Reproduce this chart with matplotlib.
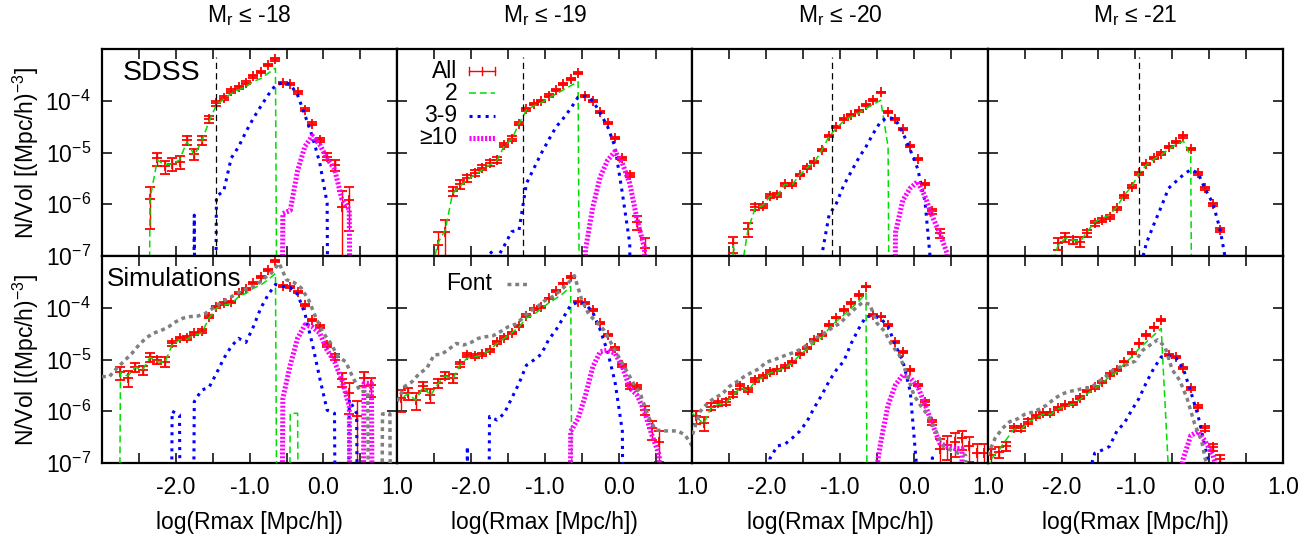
import numpy as np
import matplotlib
matplotlib.use('Agg')
import matplotlib.pyplot as plt
from matplotlib.lines import Line2D
from matplotlib.ticker import NullLocator, FixedLocator, FixedFormatter

plt.rcParams['font.family'] = ['Liberation Sans', 'DejaVu Sans']
plt.rcParams['mathtext.fontset'] = 'custom'
plt.rcParams['mathtext.rm'] = 'Liberation Sans'
plt.rcParams['mathtext.it'] = 'Liberation Sans:italic'
plt.rcParams['mathtext.bf'] = 'Liberation Sans:bold'
plt.rcParams['lines.scale_dashes'] = False

Z = -30.0          # empty bin (log10 of ~0)
N = float('nan')   # no point drawn

# ---------------- bin centres (log Rmax) ----------------
BINS = [-3.05, -2.95, -2.85, -2.75, -2.65, -2.55, -2.45, -2.35, -2.25, -2.15,
        -2.05, -1.95, -1.85, -1.75, -1.65, -1.55, -1.45, -1.35, -1.25, -1.15,
        -1.05, -0.95, -0.85, -0.75, -0.65, -0.55, -0.45, -0.35, -0.25, -0.15,
        -0.05, 0.05, 0.15, 0.25, 0.35, 0.45, 0.55, 0.65, 0.75, 0.85, 0.95]
FONT_BINS = [-3.0, -2.9, -2.8, -2.7, -2.6, -2.5, -2.4, -2.3, -2.2, -2.1,
             -2.0, -1.9, -1.8, -1.7, -1.6, -1.5, -1.4, -1.3, -1.2, -1.1,
             -1.0, -0.9, -0.8, -0.7, -0.6, -0.5, -0.4, -0.3, -0.2, -0.1,
             0.0, 0.1, 0.2, 0.3, 0.4, 0.5, 0.6, 0.7, 0.8, 0.9, 1.0]

MAG_CUTS = ['-18', '-19', '-20', '-21']
XTICKS = [-3.0, -2.5, -2.0, -1.5, -1.0, -0.5, 0.0, 0.5, 1.0]
XTICK_LABELS = ['', '', '-2.0', '', '-1.0', '', '0.0', '', '1.0']
YTICKS = [1e-7, 1e-6, 1e-5, 1e-4, 1e-3]
YTICK_LABELS = [r'$\mathregular{10^{-7}}$', r'$\mathregular{10^{-6}}$',
                r'$\mathregular{10^{-5}}$', r'$\mathregular{10^{-4}}$', '']
RES_LIMITS = [-1.46, -1.29, -1.11, -0.95]   # black dashed lines (SDSS row)

# ---------------- SDSS  Mr <= -18 (log10 N/Vol) ----------------
sdss18_all_x0 = -2.35
sdss18_all = [-5.90, -5.11, -5.27, -5.22, -5.18, -4.76, -5.02, -4.76, -4.36, -4.05,
              -3.95, -3.81, -3.74, -3.65, -3.53, -3.44, -3.31, -3.20, -3.65, -3.68,
              -3.84, -4.17, -4.44, -4.76, -5.08, -5.24, -6.05, -5.91]
sdss18_err = [0.73, 0.28, 0.3, 0.28, 0.28, 0.2, 0.25, 0.2, 0.14, 0.1,
              0.08, 0.07, 0.06, 0.06, 0.05, 0.05, 0.05, 0.05, 0.05, 0.05,
              0.06, 0.07, 0.08, 0.1, 0.15, 0.25, 0.99, 0.75]
sdss18_2_x0 = -2.45
sdss18_2 = [Z, -5.90, -5.145, -5.24, -5.22, -5.145, -4.79, -5.05, -4.79, -4.40,
            -4.08, -3.97, -3.86, -3.79, -3.73, -3.63, -3.57, -3.47, -3.37, Z]
sdss18_39_x0 = -1.85
sdss18_39 = [Z, -6.21, Z, Z, -5.85, -5.74, -5.11, -4.89, -4.60, -4.34, -4.11,
             -3.89, -3.70, -3.65, -3.68, -3.89, -4.28, -4.69, -5.20, -5.98, Z]
sdss18_10_x0 = -0.65
sdss18_10 = [Z, -6.18, -6.12, -5.35, -4.88, -4.68, -4.85, -5.12, -5.32, -5.9, -6.1, Z]

# ---------------- SDSS  Mr <= -19 ----------------
sdss19_all_x0 = -2.45
sdss19_all = [-6.79, -6.53, -5.74, -5.61, -5.50, -5.40, -5.29, -5.20, -5.145, -4.855,
              -4.73, -4.44, -4.166, -4.063, -4.005, -3.90, -3.79, -3.683, -3.58, -3.47,
              -3.908, -4.005, -4.21, -4.436, -4.726, -5.113, -5.435, -6.337, -6.85]
sdss19_err = [0.8, 0.7, 0.2, 0.18, 0.15, 0.13, 0.12, 0.12, 0.12, 0.1,
              0.1, 0.08, 0.06, 0.05, 0.05, 0.05, 0.05, 0.04, 0.04, 0.04,
              0.04, 0.04, 0.05, 0.05, 0.05, 0.06, 0.1, 0.3, 0.6]
sdss19_2_x0 = -2.55
sdss19_2 = [-7.4, -6.75, -6.5, -5.79, -5.65, -5.53, -5.43, -5.34, -5.24, -5.16, -4.87,
            -4.75, -4.44, -4.18, -4.10, -4.04, -3.95, -3.87, -3.79, -3.71, -3.63, Z]
sdss19_39_x0 = -1.85
sdss19_39 = [Z, -6.9, -7.05, -6.8, -6.53, -6.5, -5.6, -5.31, -5.02, -4.76, -4.51,
             -4.34, -4.15, -3.93, -3.91, -4.0, -4.24, -4.50, -4.89, -5.79, -6.76, Z]
sdss19_10_x0 = -0.55
sdss19_10 = [Z, -6.88, -6.05, -5.47, -5.15, -4.98, -5.21, -5.6, -6.30, -6.85, Z]

# ---------------- SDSS  Mr <= -20 ----------------
sdss20_all_x0 = -2.45
sdss20_all = [-6.755, N, -6.485, -6.05, -6.03, -5.84, -5.82, -5.61, -5.61, -5.435,
              -5.29, -5.18, -4.95, -4.68, -4.51, -4.36, -4.275, -4.20, -4.08, -3.985,
              -3.84, -4.21, -4.36, -4.55, -4.87, -5.13, -5.61, -6.14, -6.55]
sdss20_err = [0.35, 0.0, 0.3, 0.15, 0.1, 0.1, 0.08, 0.07, 0.07, 0.06,
              0.06, 0.05, 0.05, 0.05, 0.04, 0.04, 0.04, 0.04, 0.04, 0.04,
              0.04, 0.04, 0.04, 0.04, 0.04, 0.05, 0.06, 0.12, 0.2]
sdss20_2_x0 = -2.55
sdss20_2 = [Z, -6.8, -7.4, -6.5, -6.07, -6.03, -5.85, -5.83, -5.62, -5.62, -5.44, -5.30,
            -5.19, -4.96, -4.69, -4.53, -4.39, -4.31, -4.24, -4.15, -4.07, -3.99, -4.9, Z]
sdss20_39_x0 = -1.35
sdss20_39 = [Z, -7.0, -6.21, -5.98, -5.63, -5.37, -5.11, -4.89, -4.63, -4.40, -4.32,
             -4.36, -4.62, -4.95, -5.31, -5.95, -7.5]
sdss20_10_x0 = -0.35
sdss20_10 = [Z, -6.55, -5.92, -5.69, -5.56, -5.85, -6.24, -6.56, -6.95, Z]

# ---------------- SDSS  Mr <= -21 ----------------
sdss21_all_x0 = -2.05
sdss21_all = [-6.755, -6.63, -6.69, -6.72, -6.56, -6.37, -6.30, -6.24, -6.08, -5.85,
              -5.66, -5.40, -5.22, -5.11, -5.02, -4.89, -4.79, -4.69, -4.93, -5.40,
              -5.69, -6.0, -6.50]
sdss21_err = [0.25, 0.2, 0.15, 0.2, 0.15, 0.1, 0.1, 0.1, 0.08, 0.07,
              0.06, 0.06, 0.05, 0.05, 0.05, 0.05, 0.05, 0.05, 0.05, 0.06,
              0.06, 0.07, 0.1]
sdss21_2_x0 = -2.15
sdss21_2 = [-7.3, -6.8, -6.66, -6.69, -6.72, -6.53, -6.34, -6.27, -6.21, -6.05, -5.82,
            -5.66, -5.40, -5.24, -5.13, -5.05, -4.94, -4.85, -4.78, -5.07, Z]
sdss21_39_x0 = -0.95
sdss21_39 = [-7.3, -6.75, -6.39, -6.05, -5.69, -5.56, -5.43, -5.33, -5.40, -5.72,
             -5.98, -6.50, -7.3]

# ---------------- Simulations  Mr <= -18 ----------------
sim18_all_x0 = -2.75
sim18_all = [-5.25, -5.35, -5.14, -5.20, -4.945, -5.01, -5.04, -4.69, -4.59, -4.578,
             -4.494, -4.449, -4.172, -3.979, -3.915, -3.882, -3.721, -3.638, -3.528, -3.40,
             -3.27, -3.097, -3.573, -3.593, -3.689, -3.947, -4.237, -4.366, -4.72, -4.945,
             -5.38, -5.65, -6.1, -5.36, -5.5]
sim18_err = [0.3, 0.35, 0.2, 0.2, 0.2, 0.15, 0.2, 0.1, 0.08, 0.08,
             0.07, 0.07, 0.06, 0.05, 0.05, 0.05, 0.05, 0.04, 0.04, 0.04,
             0.04, 0.04, 0.04, 0.04, 0.05, 0.05, 0.06, 0.06, 0.08, 0.12,
             0.3, 0.6, 0.99, 0.3, 0.4]
sim18_2_x0 = -2.85
sim18_2 = [Z, -5.25, -5.32, -5.15, -5.2, -4.96, -5.04, -5.06, -4.72, -4.62, -4.61,
           -4.53, -4.49, -4.20, -4.01, -3.95, -3.92, -3.79, -3.72, -3.625, -3.56,
           -3.46, -3.335, Z, -6.04, -6.04, Z]
sim18_39_x0 = -2.15
sim18_39 = [Z, -6.0, -6.07, Z, -5.815, -5.59, -5.54, -5.27, -4.98, -4.75, -4.59,
            -4.67, -4.37, -4.01, -3.75, -3.55, -3.59, -3.61, -3.74, -4.12, -4.7,
            -5.36, -5.98, -6.04, Z, -5.78, -6.04, Z]
sim18_10_x0 = -0.65
sim18_10 = [Z, -5.75, -5.11, -4.59, -4.33, -4.37, -4.49, -4.82, -5.04, -5.40, -5.91,
            Z, -5.46, -5.46, Z]
sim18_font_x0 = -3.0
sim18_font = [-5.33, -5.33, -5.17, -5.03, -4.89, -4.72, -4.58, -4.49, -4.44, -4.37,
              -4.27, -4.20, -4.17, -4.16, -4.11, -4.01, -3.91, -3.83, -3.75, -3.66,
              -3.62, -3.55, -3.43, -3.32, -3.14, -3.46, -3.51, -3.62, -3.85, -4.20,
              -4.49, -4.69, -4.95, -5.04, -5.35, -5.62, -5.62, Z, -6.05, -6.05, Z]

# ---------------- Simulations  Mr <= -19 ----------------
sim19_all_x0 = -2.95
sim19_all = [-5.75, -5.65, -5.78, -5.52, -5.69, -5.46, -5.31, -5.36, -5.09, -4.91,
             -4.93, -4.90, -4.82, -4.67, -4.58, -4.49, -4.35, -4.15, -4.03, -3.98,
             -3.82, -3.68, -3.53, -3.40, -3.88, -3.91, -4.04, -4.30, -4.53, -4.78,
             -5.11, -5.52, -5.53, -5.98, -6.33, -6.59]
sim19_err = [0.45, 0.25, 0.35, 0.2, 0.3, 0.2, 0.15, 0.2, 0.1, 0.08,
             0.08, 0.07, 0.07, 0.06, 0.06, 0.05, 0.05, 0.05, 0.04, 0.04,
             0.04, 0.04, 0.04, 0.04, 0.04, 0.04, 0.04, 0.05, 0.05, 0.06,
             0.07, 0.12, 0.1, 0.2, 0.4, 0.6]
sim19_2_x0 = -3.05
sim19_2 = [-5.8, -5.75, -5.66, -5.79, -5.53, -5.7, -5.47, -5.32, -5.38, -5.11, -4.97,
           -4.95, -4.91, -4.82, -4.69, -4.59, -4.49, -4.37, -4.2, -4.13, -4.02, -3.91,
           -3.82, -3.72, -3.59, Z]
sim19_39_x0 = -2.15
sim19_39 = [Z, -6.68, Z, Z, -6.10, -6.17, -6.04, -5.75, -5.46, -5.11, -5.01, -4.90,
            -4.62, -4.43, -4.19, -3.95, -3.89, -3.93, -4.09, -4.43, -4.85, -5.43, -6.39, Z]
sim19_10_x0 = -0.75
sim19_10 = [Z, -6.39, -6.14, -5.69, -5.14, -4.85, -4.82, -4.88, -5.14, -5.55, -5.69,
            -6.01, -6.46, -6.85, Z]
sim19_font_x0 = -3.0
sim19_font = [-5.81, -5.52, -5.43, -5.27, -5.17, -4.91, -4.90, -4.80, -4.69, -4.72,
              -4.67, -4.59, -4.56, -4.54, -4.46, -4.37, -4.32, -4.20, -4.06, -3.98,
              -3.86, -3.79, -3.68, -3.55, -3.38, -3.85, -4.14, -4.27, -4.43, -4.69,
              -4.95, -5.20, -5.46, -5.69, -6.10, -6.36, -6.38, -6.38, -6.38, -6.46, -6.68]

# ---------------- Simulations  Mr <= -20 ----------------
sim20_all_x0 = -2.95
sim20_all = [-6.1, -6.23, -5.91, -5.85, -5.82, -5.67, -5.52, -5.59, -5.40, -5.33,
             -5.24, -5.20, -5.14, -5.05, -4.90, -4.77, -4.62, -4.53, -4.33, -4.19,
             -4.04, -3.91, -3.75, -3.59, -4.14, -4.17, -4.33, -4.66, -4.86, -5.20,
             -5.49, -5.83, -6.21, -6.72, -6.65, -6.59, -6.52, -6.68, -6.81, -6.81]
sim20_err = [0.3, 0.3, 0.15, 0.12, 0.12, 0.1, 0.1, 0.1, 0.08, 0.07,
             0.07, 0.06, 0.06, 0.06, 0.05, 0.05, 0.05, 0.05, 0.04, 0.04,
             0.04, 0.04, 0.04, 0.04, 0.04, 0.04, 0.04, 0.05, 0.05, 0.05,
             0.06, 0.1, 0.12, 0.5, 0.5, 0.5, 0.4, 0.5, 0.5, 0.5]
sim20_2_x0 = -3.05
sim20_2 = [-6.0, -6.1, -6.25, -5.93, -5.87, -5.84, -5.69, -5.54, -5.61, -5.42, -5.35,
           -5.26, -5.22, -5.16, -5.07, -4.92, -4.80, -4.67, -4.58, -4.40, -4.26, -4.14,
           -4.01, -3.88, -3.72, Z]
sim20_39_x0 = -2.05
sim20_39 = [Z, -6.91, -6.67, -6.64, -6.52, -6.39, -6.20, -5.93, -5.69, -5.42, -5.20,
            -5.03, -4.69, -4.41, -4.17, -4.16, -4.21, -4.36, -4.73, -5.03, -5.62, -7.3,
            Z, -6.9, Z]
sim20_10_x0 = -0.55
sim20_10 = [-7.5, -6.6, -5.88, -5.49, -5.3, -5.35, -5.52, -5.87, -6.25, -6.62, -6.68,
            -6.72, -6.72, Z]
sim20_font_x0 = -3.0
sim20_font = [-6.45, -6.01, -5.85, -5.74, -5.67, -5.52, -5.43, -5.33, -5.25, -5.18,
              -5.05, -5.01, -4.95, -4.90, -4.85, -4.77, -4.67, -4.56, -4.48, -4.38,
              -4.30, -4.15, -4.02, -3.90, -3.93, -4.30, -4.45, -4.72, -4.91, -5.27,
              -5.69, -5.91, -6.10, -6.39, -6.68, -6.75, -6.81, -6.85, Z, Z, Z]

# ---------------- Simulations  Mr <= -21 ----------------
sim21_all_x0 = -2.95
sim21_all = [-6.85, -6.78, -6.68, -6.33, -6.33, -6.2, -6.1, -6.04, -6.04, -5.94,
             -5.88, -5.85, -5.74, -5.61, -5.54, -5.43, -5.29, -5.20, -5.04, -4.88,
             -4.69, -4.53, -4.38, -4.24, -4.91, -4.95, -5.16, -5.56, -5.91, -6.33,
             -6.70, -6.92]
sim21_err = [0.3, 0.25, 0.2, 0.12, 0.1, 0.1, 0.08, 0.08, 0.07, 0.07,
             0.06, 0.06, 0.06, 0.05, 0.05, 0.05, 0.05, 0.05, 0.04, 0.04,
             0.04, 0.04, 0.04, 0.04, 0.04, 0.04, 0.04, 0.05, 0.06, 0.1,
             0.15, 0.2]
sim21_2_x0 = -3.05
sim21_2 = [-7.3, -6.92, -6.75, -6.55, -6.35, -6.35, -6.22, -6.12, -6.06, -6.06, -5.96,
           -5.90, -5.87, -5.77, -5.66, -5.56, -5.46, -5.33, -5.24, -5.08, -4.95, -4.79,
           -4.66, -4.53, -4.40, -7.2]
sim21_39_x0 = -1.65
sim21_39 = [-7.3, -6.81, -6.75, -6.68, -6.38, -6.23, -5.98, -5.75, -5.44, -5.17, -4.95,
            -4.93, -4.97, -5.18, -5.62, -6.09, -6.72, -7.5]
sim21_10_x0 = -0.45
sim21_10 = [-7.6, -6.91, -6.47, -6.39, -6.59, -6.85, -7.3]
sim21_font_x0 = -3.0
sim21_font = [-6.85, -6.52, -6.33, -6.20, -6.15, -6.06, -6.02, -5.96, -5.88, -5.76,
              -5.67, -5.62, -5.59, -5.56, -5.54, -5.43, -5.33, -5.20, -5.14, -5.09,
              -5.03, -4.82, -4.72, -4.62, -4.75, -5.20, -5.40, -5.75, -6.23, -6.59, -7.3]

# ---------------- styles ----------------
RED = '#ff0000'
GREEN = '#00dd00'
BLUE = '#0000ff'
MAGENTA = '#ff00ff'
GRAY = '#808080'
STY_2 = dict(color=GREEN, lw=1.1, dashes=(5.0, 2.8), zorder=3)
STY_39 = dict(color=BLUE, lw=2.2, dashes=(2.2, 3.6), dash_capstyle='butt', zorder=4)
STY_10 = dict(color=MAGENTA, lw=3.6, dashes=(1.5, 1.3), dash_capstyle='butt', zorder=5)
STY_FONT = dict(color=GRAY, lw=2.5, dashes=(2.8, 2.8), dash_capstyle='butt', zorder=6)

W, H = 1303, 539
FS = 16.5


def fx(px):
    return px / W


def fy(py):
    return 1.0 - py / H


def on_grid(grid, start, n):
    i = int(np.argmin(np.abs(np.array(grid) - start)))
    return np.array(grid[i:i + n], dtype=float)


def draw_line(ax, grid, x0, vals, sty):
    x = on_grid(grid, x0, len(vals))
    ax.plot(x, 10.0 ** np.array(vals, dtype=float), **sty)


def draw_all(ax, x0, vals, rel):
    x = on_grid(BINS, x0, len(vals))
    y = 10.0 ** np.array(vals, dtype=float)
    e = y * np.minimum(np.array(rel, dtype=float), 0.99)
    ok = np.isfinite(y)
    ax.errorbar(x[ok], y[ok], yerr=e[ok], fmt='+', color=RED, ms=7.5, mew=1.3,
                elinewidth=1.0, capsize=3.6, capthick=1.0, zorder=2)


PANELS = [
    (0, 0, sdss18_all_x0, sdss18_all, sdss18_err, sdss18_2_x0, sdss18_2,
     sdss18_39_x0, sdss18_39, sdss18_10_x0, sdss18_10, None, None),
    (0, 1, sdss19_all_x0, sdss19_all, sdss19_err, sdss19_2_x0, sdss19_2,
     sdss19_39_x0, sdss19_39, sdss19_10_x0, sdss19_10, None, None),
    (0, 2, sdss20_all_x0, sdss20_all, sdss20_err, sdss20_2_x0, sdss20_2,
     sdss20_39_x0, sdss20_39, sdss20_10_x0, sdss20_10, None, None),
    (0, 3, sdss21_all_x0, sdss21_all, sdss21_err, sdss21_2_x0, sdss21_2,
     sdss21_39_x0, sdss21_39, None, None, None, None),
    (1, 0, sim18_all_x0, sim18_all, sim18_err, sim18_2_x0, sim18_2,
     sim18_39_x0, sim18_39, sim18_10_x0, sim18_10, sim18_font_x0, sim18_font),
    (1, 1, sim19_all_x0, sim19_all, sim19_err, sim19_2_x0, sim19_2,
     sim19_39_x0, sim19_39, sim19_10_x0, sim19_10, sim19_font_x0, sim19_font),
    (1, 2, sim20_all_x0, sim20_all, sim20_err, sim20_2_x0, sim20_2,
     sim20_39_x0, sim20_39, sim20_10_x0, sim20_10, sim20_font_x0, sim20_font),
    (1, 3, sim21_all_x0, sim21_all, sim21_err, sim21_2_x0, sim21_2,
     sim21_39_x0, sim21_39, sim21_10_x0, sim21_10, sim21_font_x0, sim21_font),
]

fig = plt.figure(figsize=(W / 100, H / 100), dpi=100)

PX_LEFT, PX_W, PX_TOP, PX_H = 102.0, 295.25, 49.0, 207.0

for (r, c, ax0, ay, ae, gx0, gy, bx0, by, mx0, my, fx0, fyv) in PANELS:
    left = PX_LEFT + PX_W * c
    top = PX_TOP + PX_H * r
    ax = fig.add_axes([fx(left), fy(top + PX_H), PX_W / W, PX_H / H])
    ax.set_yscale('log')
    ax.set_xlim(-3.0, 1.0)
    ax.set_ylim(1e-7, 1e-3)

    draw_all(ax, ax0, ay, ae)
    draw_line(ax, BINS, gx0, gy, STY_2)
    draw_line(ax, BINS, bx0, by, STY_39)
    if my is not None:
        draw_line(ax, BINS, mx0, my, STY_10)
    if fyv is not None:
        draw_line(ax, FONT_BINS, fx0, fyv, STY_FONT)
    if r == 0:
        ax.plot([RES_LIMITS[c], RES_LIMITS[c]], [1e-7, 10 ** -3.16], color='black',
                lw=0.9, dashes=(4.5, 3.0), zorder=7)

    ax.xaxis.set_major_locator(FixedLocator(XTICKS))
    ax.yaxis.set_major_locator(FixedLocator(YTICKS))
    ax.yaxis.set_minor_locator(NullLocator())
    ax.xaxis.set_minor_locator(NullLocator())
    ax.xaxis.set_major_formatter(FixedFormatter(XTICK_LABELS if r == 1 else [''] * len(XTICKS)))
    ax.yaxis.set_major_formatter(FixedFormatter(YTICK_LABELS if c == 0 else [''] * len(YTICKS)))
    ax.tick_params(axis='both', which='major', direction='in', top=True, right=True,
                   length=7, width=1.1, labelsize=FS, colors='black')
    ax.tick_params(axis='x', pad=9)
    ax.tick_params(axis='y', pad=8)
    for s in ax.spines.values():
        s.set_linewidth(1.6)

# column titles and x labels
for c in range(4):
    cx = PX_LEFT + PX_W * (c + 0.5)
    fig.text(fx(cx), fy(22), r'$\mathregular{M_r}$ ≤ ' + MAG_CUTS[c], ha='center',
             va='baseline', fontsize=FS)
    fig.text(fx(cx), fy(522), 'log(Rmax [Mpc/h])', ha='center', va='center', fontsize=FS)

# y labels
for r in range(2):
    cy = PX_TOP + PX_H * (r + 0.5)
    fig.text(fx(26), fy(cy), r'N/Vol [(Mpc/h)$^{\mathregular{-3}}$]', rotation=90,
             ha='center', va='center', fontsize=FS)

# panel labels
fig.text(fx(123), fy(80.5), 'SDSS', ha='left', va='baseline', fontsize=20.5)
fig.text(fx(107), fy(286.5), 'Simulations', ha='left', va='baseline', fontsize=18.7)

# legend (top row, second panel)
LEG_LABELS = ['All', '2', '3-9', '≥10']
LEG_ROWS = [71, 93, 115.5, 137.5]
for lab, py in zip(LEG_LABELS, LEG_ROWS):
    fig.text(fx(457), fy(py), lab, ha='right', va='center', fontsize=FS)
x1, x2 = 469, 495
yy = LEG_ROWS[0]
fig.add_artist(Line2D([fx(x1), fx(x2)], [fy(yy), fy(yy)], color=RED, lw=1.0))
for xv in (x1, (x1 + x2) / 2, x2):
    fig.add_artist(Line2D([fx(xv), fx(xv)], [fy(yy - 4.5), fy(yy + 4.5)], color=RED, lw=1.0))
sty = dict(STY_2); sty.pop('zorder')
fig.add_artist(Line2D([fx(x1), fx(x2)], [fy(LEG_ROWS[1])] * 2, **sty))
sty = dict(STY_39); sty.pop('zorder')
fig.add_artist(Line2D([fx(x1), fx(x2)], [fy(LEG_ROWS[2])] * 2, **sty))
sty = dict(STY_10); sty.pop('zorder')
fig.add_artist(Line2D([fx(x1), fx(x2)], [fy(LEG_ROWS[3])] * 2, **sty))

# legend (bottom row, second panel)
fig.text(fx(492), fy(283.5), 'Font', ha='right', va='center', fontsize=FS)
sty = dict(STY_FONT); sty.pop('zorder')
fig.add_artist(Line2D([fx(507), fx(529)], [fy(283.5)] * 2, **sty))

fig.savefig('out.png', dpi=100)
